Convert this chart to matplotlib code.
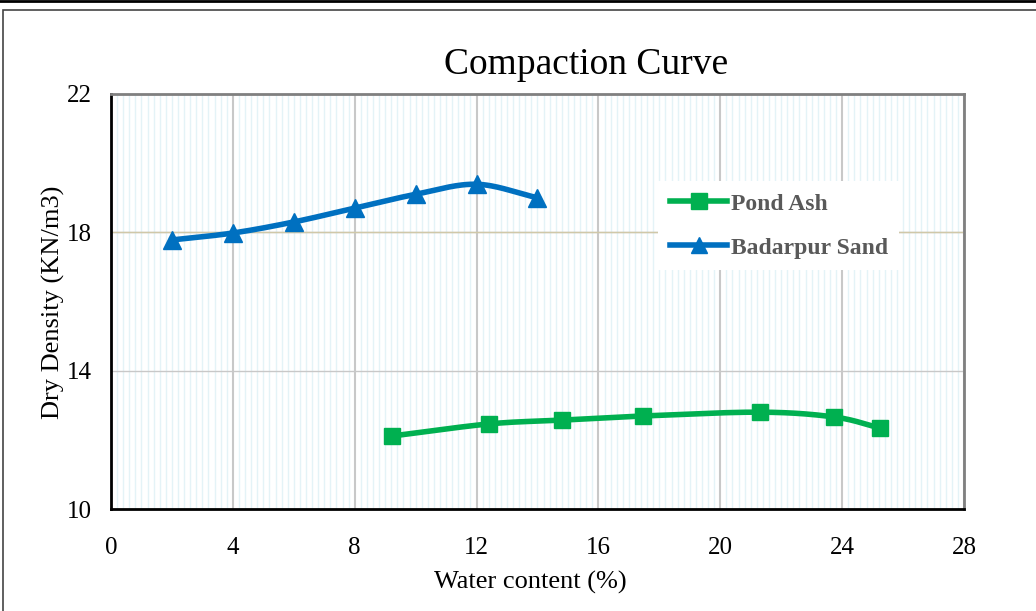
import numpy as np
import matplotlib
matplotlib.use('Agg')
from matplotlib import pyplot as plt
from matplotlib.patches import Rectangle
from matplotlib.lines import Line2D

# data
sand_w = [2, 4, 6, 8, 10, 12, 14]
sand_d = [17.78, 17.98, 18.3, 18.7, 19.1, 19.39, 19.0]
ash_w = [9.22, 12.41, 14.8, 17.47, 21.3, 23.74, 25.25]
ash_d = [12.11, 12.46, 12.57, 12.69, 12.8, 12.66, 12.34]

x_ticks = [0, 4, 8, 12, 16, 20, 24, 28]
y_ticks = [10, 14, 18, 22]

def smooth(x, y, n=30):
    # catmull-rom, like excel's smoothed line
    x = np.asarray(x, float); y = np.asarray(y, float)
    px = np.concatenate([[2*x[0]-x[1]], x, [2*x[-1]-x[-2]]])
    py = np.concatenate([[2*y[0]-y[1]], y, [2*y[-1]-y[-2]]])
    xs, ys = [], []
    t = np.linspace(0, 1, n)
    for i in range(1, len(px)-2):
        for p, out in ((px, xs), (py, ys)):
            p0, p1, p2, p3 = p[i-1], p[i], p[i+1], p[i+2]
            out.extend(0.5*((2*p1) + (-p0+p2)*t + (2*p0-5*p1+4*p2-p3)*t**2
                            + (-p0+3*p1-3*p2+p3)*t**3))
    return xs, ys

plt.rcParams['font.family'] = ['Liberation Serif', 'DejaVu Serif']

fig = plt.figure(figsize=(10.36, 6.11), dpi=100)
fig.patches.append(Rectangle((3/1036, -0.1), 1.1, 1 - 10/611 + 0.1, transform=fig.transFigure,
                             fill=False, edgecolor='#444444', lw=1.2))
fig.add_artist(Line2D([0, 1], [1 - 0.5/611, 1 - 0.5/611], color='black', lw=2))

ax = fig.add_axes([111/1036, 1 - 509/611, 853/1036, 415/611])

blue = '#0070C0'
green = '#00B050'
sx, sy = smooth(sand_w, sand_d)
ax.plot(sx, sy, color=blue, lw=4, zorder=3)
ax.plot(sand_w, sand_d, '^', color=blue, ms=13, zorder=4)
gx, gy = smooth(ash_w, ash_d)
ax.plot(gx, gy, color=green, lw=4, zorder=3)
ax.plot(ash_w, ash_d, 's', color=green, ms=12, zorder=4)

ax.set_xlim(0, 28)
ax.set_ylim(10, 22)
ax.set_xticks(x_ticks)
ax.set_yticks(y_ticks)
ax.set_xticks(np.arange(0, 28.01, 0.2), minor=True)
ax.tick_params(which='both', length=0, labelsize=18)
ax.tick_params(axis='x', pad=20)
ax.tick_params(axis='y', pad=14)
ax.grid(which='minor', axis='x', color='#E4F3F7', lw=1)
ax.grid(which='major', axis='x', color='#C8C8C8', lw=1.5)
ax.grid(which='major', axis='y', color='#C8C8C8', lw=1)
ax.axhline(18, color='#D0C8A8', lw=1, zorder=1)
ax.set_axisbelow(True)

for s in ['left', 'bottom']:
    ax.spines[s].set_color('black')
    ax.spines[s].set_linewidth(2)
for s in ['top', 'right']:
    ax.spines[s].set_color('#808080')
    ax.spines[s].set_linewidth(2)

fig.text(586/1036, 1 - 65/611, 'Compaction Curve', fontsize=27, ha='center', va='center')
fig.text(530/1036, 1 - 582/611, 'Water content (%)', fontsize=19, ha='center', va='center')
fig.text(53/1036, 1 - 302/611, 'Dry Density (KN/m3)', fontsize=19, ha='center', va='center',
         rotation=90)

h1 = Line2D([], [], color=green, lw=4, marker='s', ms=11)
h2 = Line2D([], [], color=blue, lw=4, marker='^', ms=11)
leg = ax.legend([h1, h2], ['Pond Ash', 'Badarpur Sand'], loc='upper left',
                bbox_to_anchor=(0.628, 0.818), frameon=True, fancybox=False,
                edgecolor='none', framealpha=1, handlelength=2.4, labelspacing=0.95,
                prop={'weight': 'bold', 'size': 17}, borderpad=0.5, handletextpad=0.15)
for t in leg.get_texts():
    t.set_color('#595959')

plt.savefig('out.png', dpi=100)
